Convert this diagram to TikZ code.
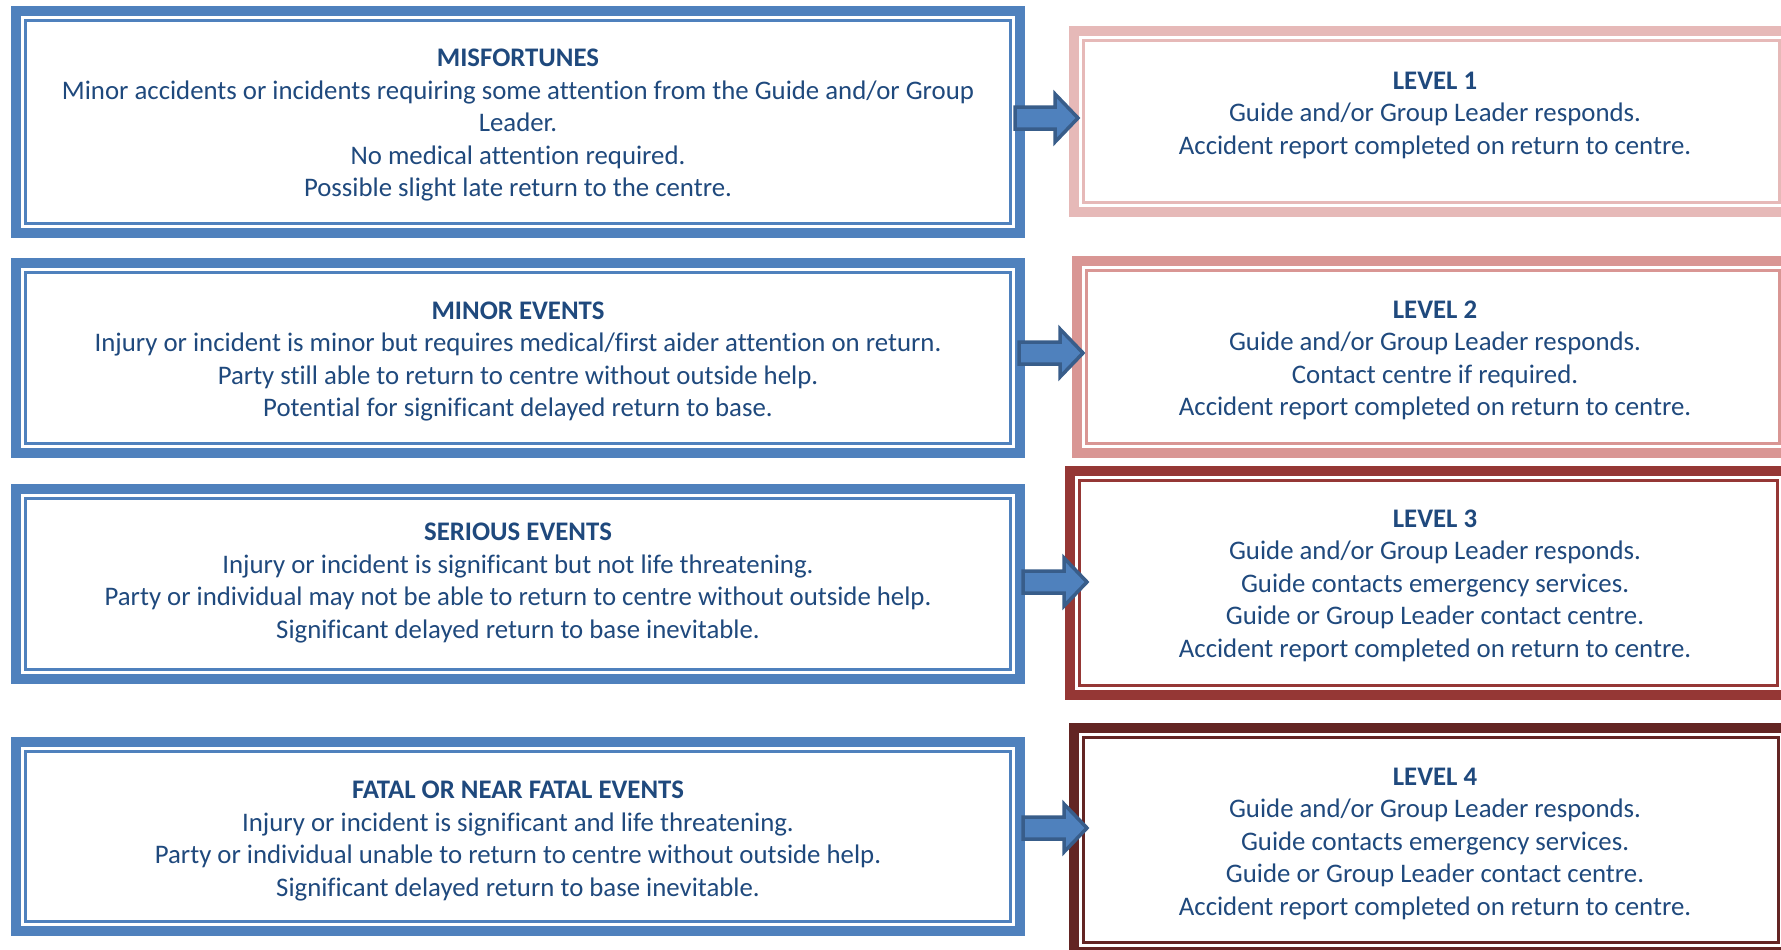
\documentclass[tikz,border=0pt]{standalone}
\usepackage{fontspec}
\setmainfont{Carlito}[Ligatures=NoCommon]
\usetikzlibrary{calc}
\definecolor{boxblue}{HTML}{4F81BD}
\definecolor{lvlone}{HTML}{E6B9B8}
\definecolor{lvltwo}{HTML}{D99694}
\definecolor{lvlthree}{HTML}{953735}
\definecolor{lvlfour}{HTML}{632523}
\definecolor{txtblue}{HTML}{1F497D}
\definecolor{arrowline}{HTML}{385D8A}
\newcommand\myframe[6]{%
  \node[framebox=#2, minimum width={(#5-#3-10)*1pt}, minimum height={(#6-#4-10)*1pt}]
    (#1) at ({(#3+#5)/2},{(#4+#6)/2}) {};
  \draw[#2, line width=3pt] ([shift={(9.5pt,-9.5pt)}]#1.north west) rectangle ([shift={(-9.5pt,9.5pt)}]#1.south east);
}
\newcommand\myarrow[2]{%
  \draw[blockarrow] ($(#1)+(0,-11)$) -- ($(#2)+(-23,-11)$) -- ($(#2)+(-23,-24)$) -- (#2)
    -- ($(#2)+(-23,24)$) -- ($(#2)+(-23,11)$) -- ($(#1)+(0,11)$) -- cycle;
}
\begin{document}
\begin{tikzpicture}[x=1pt,y=-1pt,
  framebox/.style={draw=#1, line width=10pt, inner sep=0pt, outer sep=0pt},
  txt/.style={text=txtblue, align=center, inner sep=0pt, anchor=north,
    font=\fontsize{26.8pt}{32.5pt}\selectfont},
  blockarrow/.style={fill=boxblue, draw=arrowline, line width=3.5pt, line join=miter}]
\clip (0,0) rectangle (1781,950);
\fill[white] (0,0) rectangle (1781,950);

\myframe{L1}{boxblue}{11}{6}{1025}{238}
\myframe{L2}{boxblue}{11}{258}{1025}{458}
\myframe{L3}{boxblue}{11}{484}{1025}{684}
\myframe{L4}{boxblue}{11}{737}{1025}{936}

\myframe{R1}{lvlone}{1069}{26}{1794}{217}
\myframe{R2}{lvltwo}{1072}{256}{1794}{458}
\myframe{R3}{lvlthree}{1065}{466}{1792}{700}
\myframe{R4}{lvlfour}{1069}{723}{1793}{957}

\node[txt] (L1t) at (518,49) {\textbf{MISFORTUNES}\\Minor accidents or incidents requiring some attention from the Guide and/or Group\\Leader.\\No medical attention required.\\Possible slight late return to the centre.};
\node[txt] (L2t) at (518,301.5) {\textbf{MINOR EVENTS}\\Injury or incident is minor but requires medical/first aider attention on return.\\Party still able to return to centre without outside help.\\Potential for significant delayed return to base.};
\node[txt] (L3t) at (518,523) {\textbf{SERIOUS EVENTS}\\Injury or incident is significant but not life threatening.\\Party or individual may not be able to return to centre without outside help.\\Significant delayed return to base inevitable.};
\node[txt] (L4t) at (518,781) {\textbf{FATAL OR NEAR FATAL EVENTS}\\Injury or incident is significant and life threatening.\\Party or individual unable to return to centre without outside help.\\Significant delayed return to base inevitable.};

\node[txt] (R1t) at (1435,71.5) {\textbf{LEVEL 1}\\Guide and/or Group Leader responds.\\Accident report completed on return to centre.};
\node[txt] (R2t) at (1435,300.5) {\textbf{LEVEL 2}\\Guide and/or Group Leader responds.\\Contact centre if required.\\Accident report completed on return to centre.};
\node[txt] (R3t) at (1435,509.5) {\textbf{LEVEL 3}\\Guide and/or Group Leader responds.\\Guide contacts emergency services.\\Guide or Group Leader contact centre.\\Accident report completed on return to centre.};
\node[txt] (R4t) at (1435,767.5) {\textbf{LEVEL 4}\\Guide and/or Group Leader responds.\\Guide contacts emergency services.\\Guide or Group Leader contact centre.\\Accident report completed on return to centre.};

\coordinate (a1s) at (1015,118); \coordinate (a1t) at (1078,118);
\coordinate (a2s) at (1019,353); \coordinate (a2t) at (1083,353);
\coordinate (a3s) at (1023,582); \coordinate (a3t) at (1087,582);
\coordinate (a4s) at (1023,828); \coordinate (a4t) at (1087,828);
\myarrow{a1s}{a1t}
\myarrow{a2s}{a2t}
\myarrow{a3s}{a3t}
\myarrow{a4s}{a4t}
\end{tikzpicture}
\end{document}
